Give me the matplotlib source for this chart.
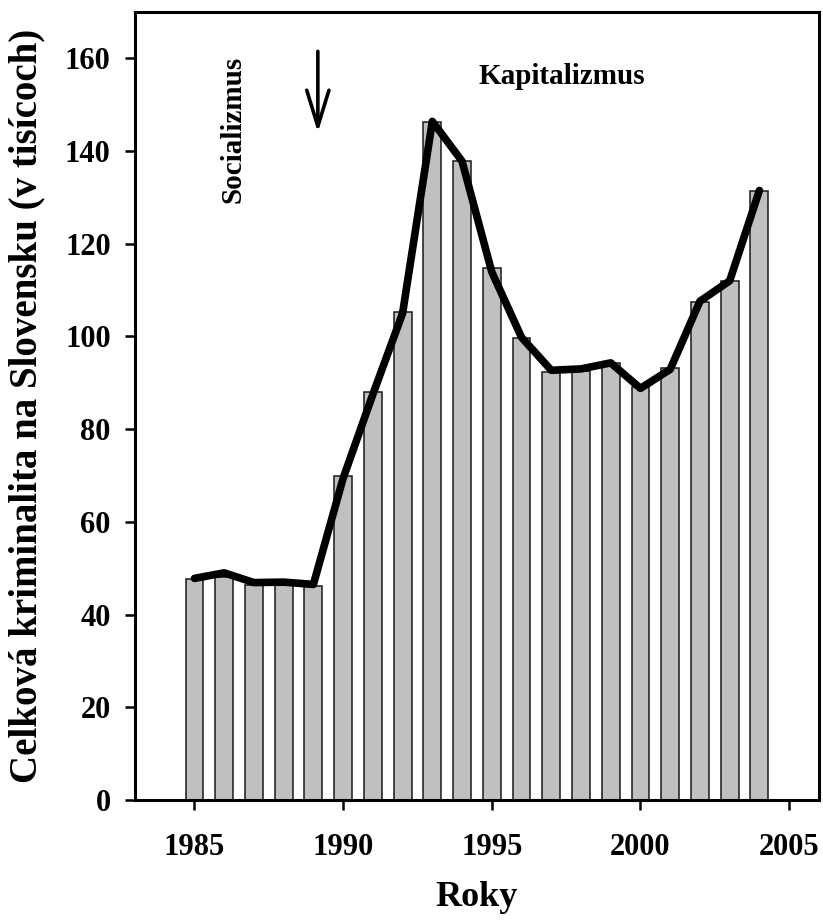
import matplotlib
matplotlib.use("Agg")
import matplotlib.pyplot as plt

# Celková kriminalita na Slovensku (v tisícoch), 1985-2004
roky = [1985, 1986, 1987, 1988, 1989, 1990, 1991, 1992, 1993, 1994,
        1995, 1996, 1997, 1998, 1999, 2000, 2001, 2002, 2003, 2004]
stlpce = [47.7, 48.2, 46.3, 46.4, 46.2, 69.8, 88.1, 105.2, 146.2, 137.8,
          114.7, 99.6, 92.4, 92.6, 94.2, 89.0, 93.1, 107.4, 111.9, 131.4]
krivka = [47.8, 49.0, 46.9, 47.0, 46.5, 69.4, 87.5, 105.0, 146.4, 137.8,
          113.9, 99.8, 92.7, 93.0, 94.3, 88.8, 92.9, 107.6, 112.0, 131.5]

x_ticky = [1985, 1990, 1995, 2000, 2005]
y_ticky = [0, 20, 40, 60, 80, 100, 120, 140, 160]

plt.rcParams['font.family'] = ['Liberation Serif', 'DejaVu Serif']
plt.rcParams['font.weight'] = 'bold'

fig = plt.figure(figsize=(8.23, 9.21), dpi=100)
ax = fig.add_axes([0.164, 0.1314, 0.831, 0.8556])

ax.bar(roky, stlpce, width=0.6, color='#c0c0c0', edgecolor='#1a1a1a',
       linewidth=1.1, zorder=2)
ax.plot(roky, krivka, color='black', linewidth=5.5,
        solid_joinstyle='round', solid_capstyle='round', zorder=3)

ax.set_xlim(1983, 2006)
ax.set_ylim(0, 170)
ax.set_xticks(x_ticky)
ax.set_yticks(y_ticky)

for s in ax.spines.values():
    s.set_linewidth(2.2)

ax.tick_params(axis='both', direction='out', length=7.5, width=1.8,
               labelsize=22)
ax.tick_params(axis='x', pad=16)
ax.tick_params(axis='y', pad=10)
for lab in ax.get_xticklabels() + ax.get_yticklabels():
    lab.set_fontweight('bold')

ax.set_xlabel('Roky', fontsize=26, fontweight='bold')
ax.xaxis.label.set_va('center')
ax.xaxis.set_label_coords(0.5, -0.124)
ax.set_ylabel('Celková kriminalita na Slovensku (v tisícoch)', fontsize=28,
              fontweight='bold')
ax.yaxis.label.set_va('center')
ax.yaxis.set_label_coords(-0.158, 0.5)

# popisky obdobi
ax.text(1986.28, 144.7, 'Socializmus', rotation=90, ha='center', va='center',
        fontsize=21, fontweight='bold')
ax.text(1997.36, 156.0, 'Kapitalizmus', ha='center', va='center',
        fontsize=21, fontweight='bold')
ax.annotate('', xy=(1989.15, 144.0), xytext=(1989.15, 161.5),
            arrowprops=dict(arrowstyle='->,head_length=1.3,head_width=0.4',
                            color='black', lw=2.6, mutation_scale=20,
                            shrinkA=0, shrinkB=0))

fig.savefig('out.png', dpi=100)
